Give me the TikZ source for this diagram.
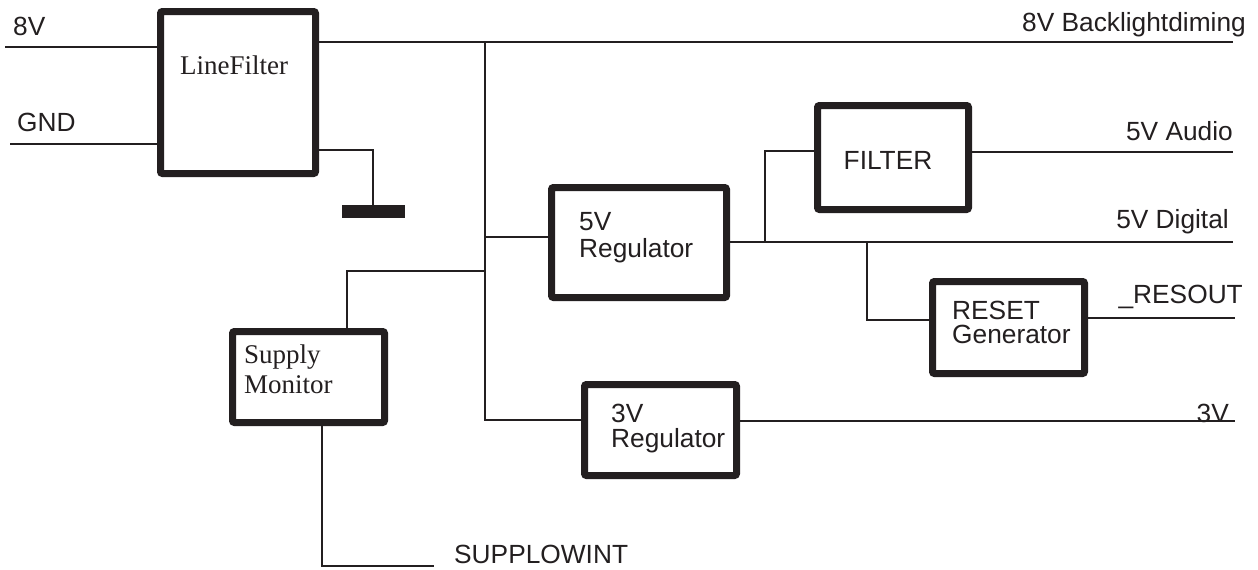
\documentclass[tikz,border=0pt]{standalone}
\usepackage{fontspec}
\setmainfont{Liberation Serif}
\setsansfont{Liberation Sans}
\definecolor{ink}{HTML}{231F20}
\begin{document}
\begin{tikzpicture}[x=1pt,y=-1pt,
  blk/.style={draw=ink,line width=7pt,rounded corners=2pt,inner sep=0pt},
  wire/.style={draw=ink,line width=2pt},
  lab/.style={inner sep=0pt,font=\sffamily\fontsize{26.3}{30}\selectfont,text=ink},
  slab/.style={inner sep=0pt,font=\rmfamily\fontsize{27}{30}\selectfont,text=ink}]
\useasboundingbox[fill=white] (0,0) rectangle (1258,570);

% blocks
\node[blk,minimum width=155pt,minimum height=162pt] (LF) at (238,92.5) {};
\node[blk,minimum width=175pt,minimum height=110pt] (R5) at (639,242.5) {};
\node[blk,minimum width=151pt,minimum height=104pt] (FI) at (893,157.5) {};
\node[blk,minimum width=152pt,minimum height=92pt] (RS) at (1008.5,327.5) {};
\node[blk,minimum width=152pt,minimum height=91pt] (SM) at (308.5,377) {};
\node[blk,minimum width=152pt,minimum height=91pt] (R3) at (660.5,430) {};
\node[fill=ink,draw=none,inner sep=0pt,minimum width=63pt,minimum height=13pt] (gnd) at (373,211.5) {};

% free ends and junctions
\coordinate (in8) at (5,47);
\coordinate (ingnd) at (10,144);
\coordinate (outBL) at (1233,42);
\coordinate (gtap) at (373,150);
\coordinate (busTop) at (485,42);
\coordinate (busBot) at (485,420);
\coordinate (tap5) at (485,237);
\coordinate (tapSM) at (485,271);
\coordinate (smIn) at (347,271);
\coordinate (out5D) at (1233,242);
\coordinate (jF) at (765,242);
\coordinate (fIn) at (765,151);
\coordinate (jR) at (867,242);
\coordinate (rIn) at (867,320);
\coordinate (outA) at (1233,152);
\coordinate (outRes) at (1235,318);
\coordinate (out3) at (1235,421);
\coordinate (smCorner) at (322,566);
\coordinate (outLow) at (434,566);

% wires
\draw[wire] (in8) -- (in8 -| LF.west);
\draw[wire] (ingnd) -- (ingnd -| LF.west);
\draw[wire] (LF.east |- outBL) -- (outBL);
\draw[wire] (LF.east |- gtap) -- (gtap) -- (gnd.north);
\draw[wire] (busTop) -- (busBot) -- (busBot -| R3.west);
\draw[wire] (tap5) -- (tap5 -| R5.west);
\draw[wire] (tapSM) -- (smIn) -- (smIn |- SM.north);
\draw[wire] (R5.east |- out5D) -- (out5D);
\draw[wire] (jF) -- (fIn) -- (fIn -| FI.west);
\draw[wire] (FI.east |- outA) -- (outA);
\draw[wire] (jR) -- (rIn) -- (rIn -| RS.west);
\draw[wire] (RS.east |- outRes) -- (outRes);
\draw[wire] (R3.east |- out3) -- (out3);
\draw[wire] (SM.south -| smCorner) -- (smCorner) -- (outLow);

% labels
\node[lab,anchor=base west] (t8) at (13,35) {8V};
\node[lab,anchor=base west] (tgnd) at (17,131) {GND};
\node[lab,anchor=base east] (tbl) at (1246,31) {8V Backlightdiming};
\node[lab,anchor=base east] (ta) at (1233,140) {5V Audio};
\node[lab,anchor=base east] (td) at (1229,228) {5V Digital};
\node[lab,anchor=base east] (tres) at (1243,303) {\_RESOUT};
\node[lab,anchor=base east] (t3) at (1229,422) {3V};
\node[lab,anchor=base west] (tlow) at (454,563) {SUPPLOWINT};
\node[slab,anchor=base] (tlf) at (234,74) {LineFilter};
\node[lab,anchor=base] (tfi) at (888,169) {FILTER};
\node[lab,anchor=base west] (t5a) at (579,230) {5V};
\node[lab,anchor=base west] (t5b) at (579,257) {Regulator};
\node[lab,anchor=base west] (t3a) at (611,422) {3V};
\node[lab,anchor=base west] (t3b) at (611,447) {Regulator};
\node[lab,anchor=base west] (tra) at (952,319) {RESET};
\node[lab,anchor=base west] (trb) at (952,343) {Generator};
\node[slab,anchor=base west] (tsa) at (244,363) {Supply};
\node[slab,anchor=base west] (tsb) at (244,393) {Monitor};
\end{tikzpicture}
\end{document}
